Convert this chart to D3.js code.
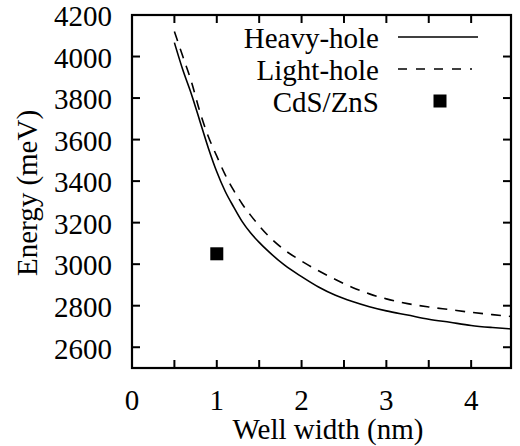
<!DOCTYPE html>
<html><head><meta charset="utf-8">
<script src="https://cdn.jsdelivr.net/npm/d3@7"></script>
<style>
body{margin:0;background:#fff}svg{display:block}
svg text{font-family:"Liberation Serif",Tinos,"Times New Roman",serif}
</style>
</head><body>
<svg id="c" width="520" height="446"></svg>
<script>
const wellWidth = [0.5,0.6,0.7,0.8,0.9,1.0,1.1,1.2,1.3,1.4,1.5,1.6,1.8,2.0,2.2,2.4,2.6,2.8,3.0,3.25,3.5,3.75,4.0,4.25,4.47];
const heavyHole = [4067,3935,3820,3690,3560,3445,3350,3275,3205,3150,3105,3065,2995,2940,2890,2850,2820,2795,2775,2755,2735,2720,2705,2695,2688];
const lightHole = [4120,4000,3880,3735,3615,3520,3430,3355,3290,3235,3185,3140,3068,3015,2968,2926,2888,2857,2833,2810,2794,2781,2768,2757,2748];
const cdsX = [1.0];
const cdsY = [3050];
const xTicks = [0,0.5,1,1.5,2,2.5,3,3.5,4];
const xLabels = [0,1,2,3,4];
const yTicks = [2600,2800,3000,3200,3400,3600,3800,4000,4200];
const legendLabels = ["Heavy-hole","Light-hole","CdS/ZnS"];

const FONT="'Liberation Serif', Tinos, 'Times New Roman', serif";
// wait (briefly, synchronously) until the serif face answers
const cv=document.createElement("canvas").getContext("2d");
function wd(f){cv.font="40px "+f;return cv.measureText("Well width (nm) Wg 0123456789").width;}
const t0=performance.now();
while(performance.now()-t0<400){
  if(Math.abs(wd("'Liberation Serif', monospace")-wd("monospace"))>1) break;
}
wd("serif"); wd("Tinos, monospace"); wd("'Times New Roman', monospace");

const L=132,R=511,T=15,B=368,FS=29;
const svg=d3.select("#c").attr("font-family",FONT);
const x=d3.scaleLinear().domain([0,4.47]).range([L,R]);
const y=d3.scaleLinear().domain([2500,4200]).range([B,T]);

const tl=8;
const g=svg.append("g").attr("stroke","#000").attr("stroke-width",2);
xTicks.filter(v=>v>0).forEach(v=>{
  g.append("line").attr("x1",x(v)).attr("x2",x(v)).attr("y1",B).attr("y2",B-tl);
  g.append("line").attr("x1",x(v)).attr("x2",x(v)).attr("y1",T).attr("y2",T+tl);
});
yTicks.forEach(v=>{
  g.append("line").attr("x1",L).attr("x2",L+tl).attr("y1",y(v)).attr("y2",y(v));
  g.append("line").attr("x1",R).attr("x2",R-tl).attr("y1",y(v)).attr("y2",y(v));
});
svg.append("rect").attr("x",L).attr("y",T).attr("width",R-L).attr("height",B-T)
  .attr("fill","none").attr("stroke","#000").attr("stroke-width",2.2);

const line=d3.line().x(d=>x(d[0])).y(d=>y(d[1])).curve(d3.curveMonotoneX);
svg.append("path").attr("d",line(wellWidth.map((w,i)=>[w,heavyHole[i]]))).attr("fill","none").attr("stroke","#000").attr("stroke-width",1.6);
svg.append("path").attr("d",line(wellWidth.map((w,i)=>[w,lightHole[i]]))).attr("fill","none").attr("stroke","#000").attr("stroke-width",1.6).attr("stroke-dasharray","10,8");

const sq=13;
svg.append("g").selectAll("rect").data(cdsX).join("rect")
  .attr("x",(d)=>x(d)-sq/2).attr("y",(d,i)=>y(cdsY[i])-sq/2).attr("width",sq).attr("height",sq).attr("fill","#000");

svg.append("line").attr("x1",398).attr("x2",478).attr("y1",37).attr("y2",37).attr("stroke","#000").attr("stroke-width",1.6);
svg.append("line").attr("x1",398).attr("x2",472).attr("y1",69).attr("y2",69).attr("stroke","#000").attr("stroke-width",1.6).attr("stroke-dasharray","9,9");
svg.append("rect").attr("x",440-sq/2).attr("y",101-sq/2).attr("width",sq).attr("height",sq).attr("fill","#000");

const tg=svg.append("g");
function drawText(){
  tg.selectAll("*").remove();
  function txt(sel){return sel.attr("font-family",FONT).attr("font-size",FS).attr("fill","#000");}
  txt(tg.append("g").selectAll("text").data(xLabels).join("text")
    .attr("x",d=>x(d)).attr("y",410).attr("text-anchor","middle")).text(d=>d);
  txt(tg.append("g").selectAll("text").data(yTicks).join("text")
    .attr("x",112).attr("y",d=>y(d)).attr("dy","0.39em").attr("text-anchor","end")).text(d=>d);
  txt(tg.append("text").attr("x",328).attr("y",439).attr("text-anchor","middle")).text("Well width (nm)");
  txt(tg.append("text").attr("transform",`translate(37,193) rotate(-90)`).attr("text-anchor","middle")).text("Energy (meV)");
  const ly=[48,80,112];
  legendLabels.forEach((t,i)=>{
    txt(tg.append("text").attr("x",379).attr("y",ly[i]).attr("text-anchor","end")).text(t);
  });
}
drawText();
setTimeout(drawText,30);
setTimeout(drawText,200);
</script>
</body></html>
